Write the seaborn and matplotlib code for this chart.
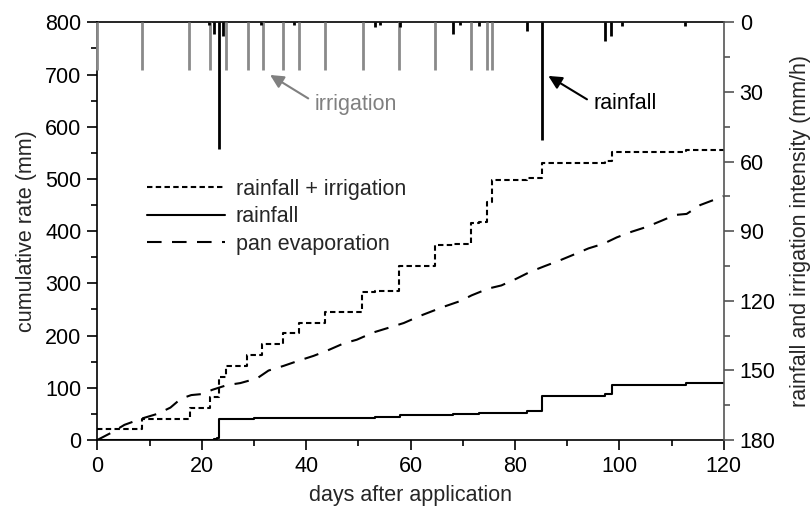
import numpy as np
import pandas as pd
import matplotlib
matplotlib.use("Agg")
import matplotlib.pyplot as plt
import seaborn as sns
from matplotlib.ticker import MultipleLocator

# ---------------- data ----------------
# cumulative rainfall + irrigation (mm), step changes at these days
ri_days = [0, 8.5, 17.7, 21.6, 23.3, 24.7, 28.7, 31.6, 35.5, 38.6, 43.6, 50.7,
           53.2, 57.7, 64.7, 68.2, 71.6, 73.2, 74.7, 75.7, 82.3, 85.2, 97.3,
           98.5, 112.7, 120]
ri_cum = [20.5, 41, 61, 83, 120, 142, 163, 184, 204, 225, 245, 284,
          286, 333, 373, 375, 416, 417, 456, 498, 501, 530, 535,
          552, 555, 555]

# cumulative rainfall (mm)
rain_days = [0, 21.2, 22.4, 23.0, 23.35, 30, 45, 53.1, 57.9, 68.1, 73.2, 82.3,
             85.2, 97.2, 98.5, 112.7, 120]
rain_cum = [0, 0.5, 2.5, 3, 41, 41.5, 42.5, 44.5, 48.5, 50.5, 52, 55,
            84, 88.5, 105, 108.5, 108.5]

# cumulative pan evaporation (mm)
ev_days = [0, 2.7, 5.2, 8.5, 11.5, 14, 16, 18, 20.1, 22, 24.8, 27.4, 30.6,
           32.8, 35.7, 38.6, 41.4, 44, 47.2, 49.7, 52.9, 55.5, 58.7, 61.9,
           66.3, 69.5, 71.7, 74.9, 77.4, 80.3, 82.9, 85.7, 88.6, 91.5, 94.1,
           97, 99.5, 102.4, 105.2, 108.1, 110.7, 112.9, 115.5, 120]
ev_cum = [0, 14, 29, 41, 50, 62, 79, 86, 88, 96, 105, 109, 118,
          133, 142, 152, 161, 171, 185, 192, 206, 214, 224, 238,
          255, 266, 277, 290, 296, 309, 322, 333, 344, 356, 367,
          376, 388, 399, 408, 420, 431, 433, 450, 467]

# irrigation events (day, intensity mm/h)
irr_days = [0, 8.6, 17.6, 21.6, 24.7, 28.8, 31.7, 35.6, 38.7, 43.7, 50.8,
            57.7, 64.7, 71.6, 74.7, 75.7]
irr_int = [20.5] * len(irr_days)

# rainfall events (day, intensity mm/h)
rainev_days = [21.3, 22.4, 23.3, 24.1, 31.3, 37.7, 53.2, 54.2, 57.9, 68.2,
               69.5, 73.2, 82.4, 85.2, 97.3, 98.4, 100.5, 112.6]
rainev_int = [1.2, 5.0, 54.4, 6.0, 1.0, 1.0, 2.0, 1.0, 2.0, 5.0,
              1.0, 1.5, 3.9, 50.8, 8.2, 5.7, 1.5, 1.5]

# ---------------- style ----------------
sns.set_style("ticks")
plt.rcParams["font.family"] = ["Liberation Sans", "DejaVu Sans"]
FS = 15.5
plt.rcParams.update({
    "font.size": FS,
    "axes.labelsize": FS,
    "xtick.labelsize": FS,
    "ytick.labelsize": FS,
    "axes.edgecolor": "black",
    "axes.linewidth": 1.2,
    "xtick.color": "black",
    "ytick.color": "black",
})

fig = plt.figure(figsize=(8.11, 5.08), dpi=100)
ax = fig.add_axes([0.1200, 0.1339, 0.7724, 0.8222])

sns.lineplot(x=ri_days, y=ri_cum, ax=ax, drawstyle="steps-post", color="black",
             lw=1.5, label="rainfall + irrigation", estimator=None)
ax.lines[-1].set_dashes([2.6, 1.6])
sns.lineplot(x=rain_days, y=rain_cum, ax=ax, drawstyle="steps-post", color="black",
             lw=1.5, label="rainfall", estimator=None)
sns.lineplot(x=ev_days, y=ev_cum, ax=ax, color="black", lw=1.5,
             label="pan evaporation", estimator=None)
ax.lines[-1].set_dashes([7, 5])

ax.set_xlim(0, 120)
ax.set_ylim(0, 800)
ax.xaxis.set_major_locator(MultipleLocator(20))
ax.xaxis.set_minor_locator(MultipleLocator(10))
ax.yaxis.set_major_locator(MultipleLocator(100))
ax.yaxis.set_minor_locator(MultipleLocator(50))
ax.tick_params(which="major", direction="out", length=7.5, width=1.2, pad=4)
ax.tick_params(which="minor", direction="out", length=4, width=1.2)
ax.tick_params(top=False, right=False)
ax.spines["right"].set_visible(False)
ax.set_xlabel("days after application", labelpad=6)
ax.set_ylabel("cumulative rate (mm)", labelpad=6)

ax.legend(loc="upper left", bbox_to_anchor=(0.08, 0.625), frameon=False,
          handlelength=3.6, handletextpad=0.5, labelspacing=0.3,
          borderpad=0, borderaxespad=0, fontsize=FS)

# ---------------- right axis: intensities ----------------
ax2 = ax.twinx()
ax2.set_ylim(180, 0)
ax2.yaxis.set_major_locator(MultipleLocator(30))
ax2.yaxis.set_minor_locator(MultipleLocator(15))
for s in ["left", "top", "bottom"]:
    ax2.spines[s].set_visible(False)
ax2.spines["right"].set_color("#555555")
ax2.spines["right"].set_linewidth(1.2)
ax2.tick_params(axis="y", which="major", direction="out", length=7.5, width=1.2,
                pad=4, colors="#555555", labelcolor="black")
ax2.tick_params(axis="y", which="minor", direction="out", length=4, width=1.2,
                colors="#555555")
ax2.set_ylabel("rainfall and irrigation intensity (mm/h)", labelpad=10)

ax2.vlines(irr_days, 0, irr_int, colors="#8a8a8a", lw=2, clip_on=False, zorder=3)
ax2.vlines(rainev_days, 0, rainev_int, colors="black", lw=2, zorder=4)

ax2.annotate("", xy=(33.1, 22.7), xytext=(40.4, 32.8),
             arrowprops=dict(arrowstyle="-|>", color="#808080", lw=1.5,
                             mutation_scale=20, shrinkA=0, shrinkB=0))
ax2.text(41.7, 35.3, "irrigation", color="#808080", ha="left", va="center",
         fontsize=FS)
ax2.annotate("", xy=(86.4, 23.1), xytext=(93.8, 33.2),
             arrowprops=dict(arrowstyle="-|>", color="black", lw=1.5,
                             mutation_scale=20, shrinkA=0, shrinkB=0))
ax2.text(95.0, 34.9, "rainfall", color="black", ha="left", va="center",
         fontsize=FS)

fig.savefig("out.png", dpi=100)
